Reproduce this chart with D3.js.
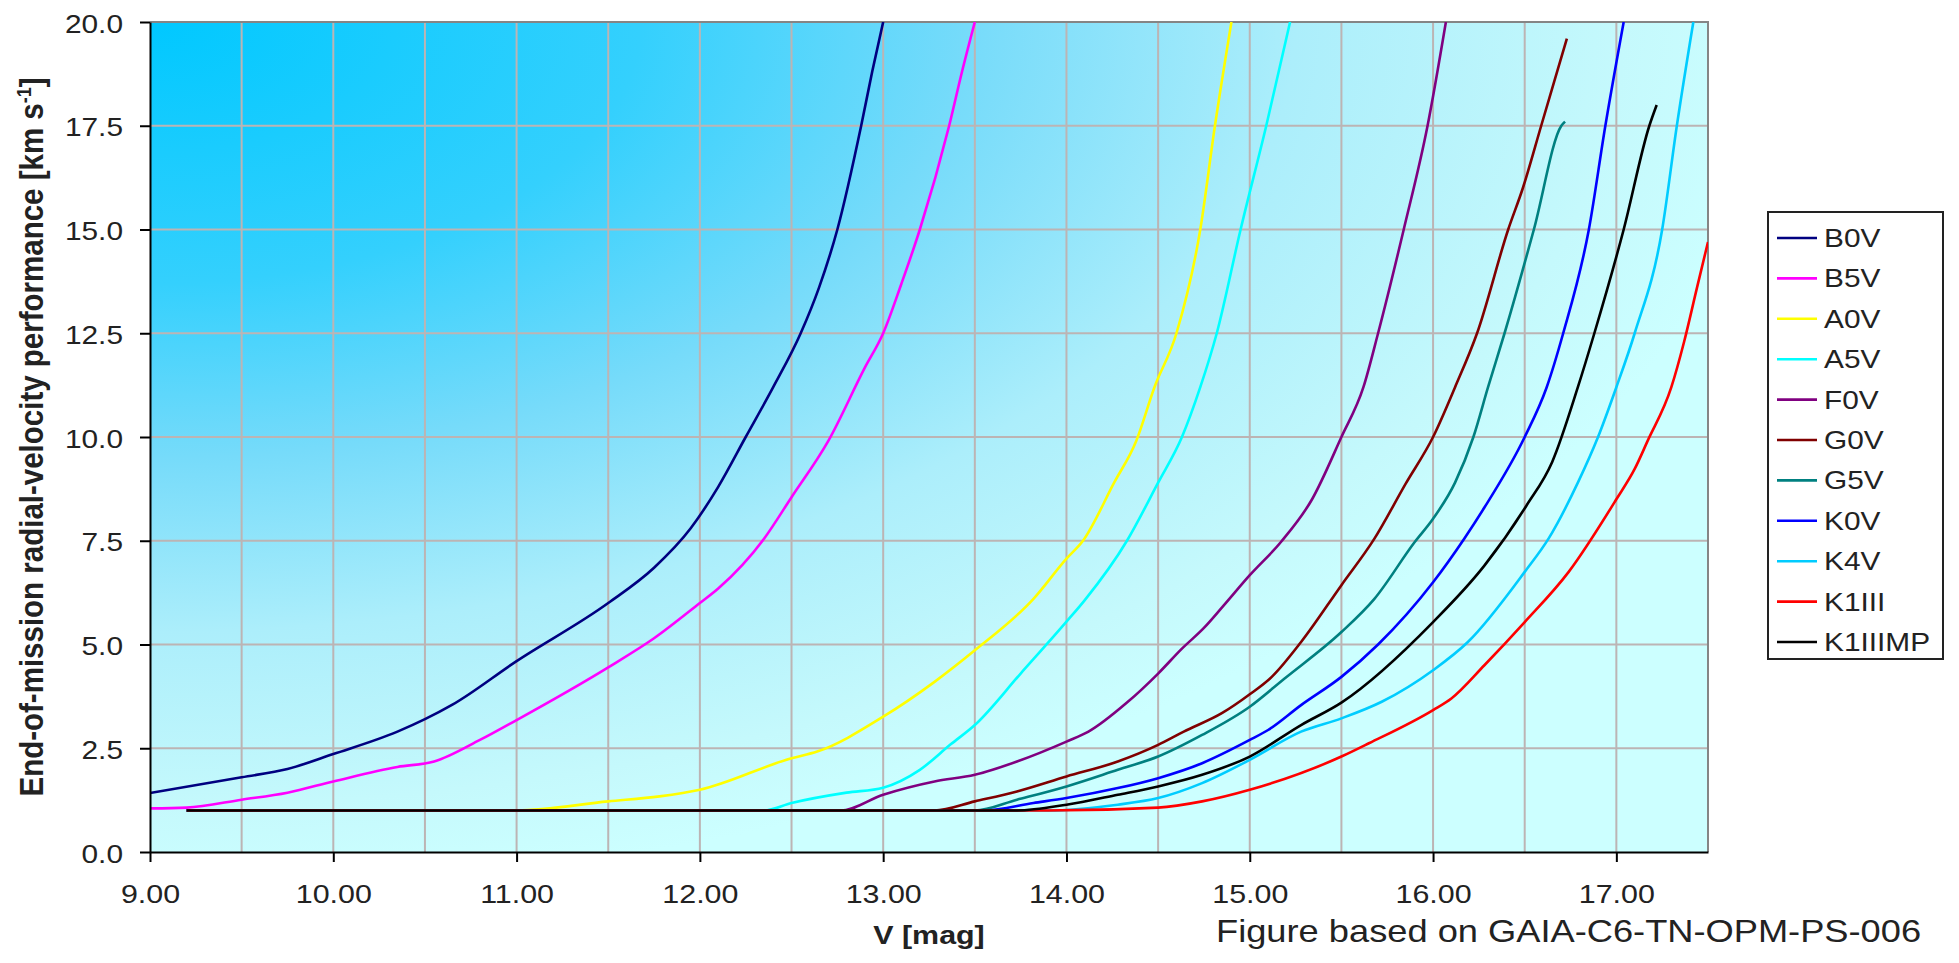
<!DOCTYPE html>
<html>
<head>
<meta charset="utf-8">
<script src="https://cdn.jsdelivr.net/npm/d3@7"></script>
<style>
  body { margin: 0; background: #fff; }
  svg { display: block; font-family: "Liberation Sans", Arial, sans-serif; }
</style>
</head>
<body>
<svg id="chart" width="1959" height="963"></svg>
<script>
// Series: [V magnitude, end-of-mission RV performance km/s]
const B0V = [[9.0,1.42],[9.5,1.8],[9.75,2.0],[10.0,2.36],[10.35,2.9],[10.5,3.2],[10.65,3.55],[11.0,4.6],[11.5,6.0],[11.75,6.85],[11.95,7.8],[12.1,8.8],[12.25,10.0],[12.4,11.2],[12.55,12.5],[12.65,13.6],[12.75,15.0],[12.88,17.5],[12.94,18.8],[13.0,20.0]];
const B5V = [[9.0,1.05],[9.2,1.07],[9.5,1.26],[9.75,1.43],[10.0,1.7],[10.35,2.05],[10.55,2.18],[10.8,2.7],[11.0,3.18],[11.5,4.45],[11.75,5.15],[12.0,6.0],[12.1,6.35],[12.35,7.55],[12.5,8.55],[12.7,9.9],[12.9,11.67],[13.0,12.5],[13.1,13.7],[13.2,15.0],[13.36,17.5],[13.43,18.8],[13.5,20.0]];
const A0V = [[9.2,1.0],[11.0,1.0],[11.5,1.22],[11.78,1.34],[12.0,1.5],[12.5,2.26],[12.64,2.42],[13.0,3.26],[13.28,4.1],[13.5,4.86],[13.82,6.1],[14.0,7.07],[14.09,7.5],[14.26,8.9],[14.38,9.9],[14.48,11.2],[14.6,12.5],[14.73,15.0],[14.81,17.5],[14.9,20.0]];
const A5V = [[9.2,1.0],[12.35,1.0],[12.5,1.18],[12.8,1.43],[13.0,1.55],[13.2,1.98],[13.37,2.6],[13.5,3.06],[13.75,4.3],[14.0,5.55],[14.1,6.07],[14.33,7.5],[14.5,8.9],[14.63,10.0],[14.73,11.2],[14.82,12.5],[14.95,15.0],[15.09,17.5],[15.22,20.0]];
const F0V = [[9.2,1.0],[12.77,1.0],[13.0,1.38],[13.28,1.7],[13.5,1.86],[13.73,2.18],[14.0,2.66],[14.12,2.9],[14.33,3.6],[14.5,4.3],[14.63,4.9],[14.75,5.4],[14.85,5.9],[15.0,6.67],[15.17,7.47],[15.34,8.5],[15.5,10.0],[15.62,11.2],[15.7,12.5],[15.84,15.0],[15.97,17.5],[16.07,20.0]];
const G0V = [[9.2,1.0],[13.28,1.0],[13.5,1.22],[13.73,1.46],[14.0,1.82],[14.28,2.18],[14.5,2.58],[14.64,2.9],[14.85,3.35],[15.0,3.8],[15.12,4.22],[15.28,5.06],[15.5,6.43],[15.68,7.55],[15.85,8.87],[16.0,10.0],[16.12,11.2],[16.24,12.5],[16.41,15.0],[16.49,16.0],[16.59,17.5],[16.73,19.6]];
const G5V = [[9.2,1.0],[13.5,1.0],[13.73,1.26],[14.0,1.58],[14.28,1.98],[14.5,2.3],[14.74,2.82],[15.0,3.5],[15.19,4.18],[15.5,5.3],[15.68,6.1],[15.9,7.47],[16.0,8.03],[16.12,8.9],[16.22,10.0],[16.3,11.2],[16.39,12.5],[16.55,15.0],[16.7,17.5],[16.72,17.6]];
const K0V = [[9.2,1.0],[13.55,1.0],[13.82,1.18],[14.0,1.3],[14.28,1.54],[14.5,1.78],[14.74,2.14],[15.0,2.7],[15.1,2.94],[15.28,3.54],[15.5,4.22],[15.7,5.0],[16.0,6.5],[16.17,7.55],[16.28,8.3],[16.5,10.0],[16.62,11.2],[16.71,12.5],[16.85,15.0],[16.94,17.5],[17.04,20.0]];
const K4V = [[9.2,1.0],[13.9,1.0],[14.28,1.14],[14.5,1.3],[14.74,1.66],[15.0,2.22],[15.28,2.9],[15.5,3.22],[15.72,3.62],[16.0,4.38],[16.19,5.06],[16.5,6.75],[16.63,7.55],[16.79,8.9],[16.9,10.0],[17.0,11.2],[17.1,12.5],[17.25,15.0],[17.33,17.5],[17.42,20.0]];
const K1III = [[9.2,1.0],[13.9,1.0],[14.5,1.07],[14.74,1.22],[15.0,1.5],[15.5,2.3],[15.65,2.62],[16.0,3.42],[16.1,3.7],[16.28,4.5],[16.5,5.54],[16.74,6.75],[17.0,8.5],[17.1,9.23],[17.17,9.9],[17.3,11.2],[17.37,12.3],[17.44,13.6],[17.5,14.7]];
const K1IIIMP = [[9.2,1.0],[13.73,1.0],[14.0,1.14],[14.28,1.38],[14.5,1.58],[14.74,1.86],[15.0,2.3],[15.28,3.06],[15.5,3.6],[16.0,5.54],[16.28,6.9],[16.51,8.35],[16.65,9.4],[16.79,11.2],[16.88,12.5],[17.04,15.0],[17.18,17.5],[17.22,18.0]];

const seriesNames = ["B0V","B5V","A0V","A5V","F0V","G0V","G5V","K0V","K4V","K1III","K1IIIMP"];
const seriesData = [B0V,B5V,A0V,A5V,F0V,G0V,G5V,K0V,K4V,K1III,K1IIIMP];
const seriesColors = ["#000080","#ff00ff","#ffff00","#00ffff","#800080","#800000","#008080","#0000ff","#00ccff","#ff0000","#000000"];

const xTicks = [9,10,11,12,13,14,15,16,17];
const xGrid = [9.5,10,10.5,11,11.5,12,12.5,13,13.5,14,14.5,15,15.5,16,16.5,17];
const yTicks = [0,2.5,5,7.5,10,12.5,15,17.5,20];
const yGrid = [2.5,5,7.5,10,12.5,15,17.5];

const SX = 1.17; // the source figure is stretched horizontally

const svg = d3.select("#chart");
const x = d3.scaleLinear().domain([9, 17.5]).range([150, 1708]);
const y = d3.scaleLinear().domain([0, 20]).range([852, 22]);

const defs = svg.append("defs");
const grad = defs.append("radialGradient")
  .attr("id", "bg")
  .attr("cx", 0).attr("cy", 0).attr("fx", 0).attr("fy", 0).attr("r", 1.05);
[[0,"#00c8ff"],[0.3,"#34d0fd"],[0.5,"#76dbfa"],[0.7,"#aceefb"],[0.9,"#c5f9fc"],[1,"#ccffff"]]
  .forEach(s => grad.append("stop").attr("offset", s[0]).attr("stop-color", s[1]));

defs.append("clipPath").attr("id", "plotclip")
  .append("rect")
  .attr("x", x(9)).attr("y", y(20))
  .attr("width", x(17.5) - x(9)).attr("height", y(0) - y(20));

// plot background
svg.append("rect")
  .attr("x", x(9)).attr("y", y(20))
  .attr("width", x(17.5) - x(9)).attr("height", y(0) - y(20))
  .attr("fill", "url(#bg)");

// grid
svg.append("g").selectAll("line").data(xGrid).join("line")
  .attr("x1", d => x(d)).attr("x2", d => x(d))
  .attr("y1", y(0)).attr("y2", y(20))
  .attr("stroke", "#bcb4b4").attr("stroke-width", 2);
svg.append("g").selectAll("line").data(yGrid).join("line")
  .attr("x1", x(9)).attr("x2", x(17.5))
  .attr("y1", d => y(d)).attr("y2", d => y(d))
  .attr("stroke", "#bcb4b4").attr("stroke-width", 2);

// top and right border
svg.append("path")
  .attr("d", `M${x(9)},${y(20)}H${x(17.5)}V${y(0)}`)
  .attr("fill", "none").attr("stroke", "#858585").attr("stroke-width", 2);

// curves
const line = d3.line()
  .x(d => x(d[0])).y(d => y(d[1]))
  .curve(d3.curveMonotoneX);

svg.append("g").attr("clip-path", "url(#plotclip)")
  .selectAll("path").data(seriesData).join("path")
  .attr("d", line)
  .attr("fill", "none")
  .attr("stroke", (d, i) => seriesColors[i])
  .attr("stroke-width", 2.6)
  .attr("stroke-linejoin", "round");

// axes
const xAxis = svg.append("g")
  .attr("transform", `translate(0,${y(0)})`)
  .call(d3.axisBottom(x).tickValues(xTicks).tickFormat(d3.format(".2f")).tickSize(10).tickSizeOuter(0));
const yAxis = svg.append("g")
  .attr("transform", `translate(${x(9)},0)`)
  .call(d3.axisLeft(y).tickValues(yTicks).tickFormat(d3.format(".1f")).tickSize(10).tickSizeOuter(0));

[xAxis, yAxis].forEach(a => {
  a.select(".domain").attr("stroke", "#000").attr("stroke-width", 2);
  a.selectAll(".tick line").attr("stroke", "#000").attr("stroke-width", 2);
});

xAxis.selectAll(".tick text")
  .attr("x", null).attr("y", null).attr("dy", null)
  .attr("transform", `translate(0,51) scale(${SX},1)`)
  .attr("font-size", 26).attr("fill", "#222")
  .attr("font-family", "Liberation Sans, Arial, sans-serif");

yAxis.selectAll(".tick text")
  .attr("x", null).attr("y", null).attr("dy", null)
  .attr("text-anchor", "end")
  .attr("transform", `translate(-27,10) scale(${SX},1)`)
  .attr("font-size", 25.5).attr("fill", "#222")
  .attr("font-family", "Liberation Sans, Arial, sans-serif");

// axis titles
svg.append("text")
  .attr("transform", `translate(${(x(9) + x(17.5)) / 2},944) scale(${SX},1)`)
  .attr("text-anchor", "middle")
  .attr("font-size", 26).attr("font-weight", "bold").attr("fill", "#222")
  .text("V [mag]");

const yTitle = svg.append("text")
  .attr("transform", `translate(43,${(y(0) + y(20)) / 2}) rotate(-90) scale(1,1.1)`)
  .attr("text-anchor", "middle")
  .attr("font-size", 29.5).attr("font-weight", "bold").attr("fill", "#222");
yTitle.append("tspan").text("End-of-mission radial-velocity performance [km s");
yTitle.append("tspan").attr("font-size", 18).attr("dy", -11).text("-1");
yTitle.append("tspan").attr("dy", 11).text("]");

svg.append("text")
  .attr("transform", `translate(1216,942) scale(${SX},1)`)
  .attr("font-size", 31).attr("fill", "#222")
  .text("Figure based on GAIA-C6-TN-OPM-PS-006");

// legend
const legend = svg.append("g");
legend.append("rect")
  .attr("x", 1768).attr("y", 212).attr("width", 175).attr("height", 447)
  .attr("fill", "#fff").attr("stroke", "#222").attr("stroke-width", 2);

const ly = d3.scalePoint().domain(seriesNames).range([238, 642]);
const items = legend.selectAll("g.item").data(seriesNames).join("g")
  .attr("class", "item")
  .attr("transform", d => `translate(0,${ly(d)})`);
items.append("line")
  .attr("x1", 1777).attr("x2", 1817).attr("y1", 0).attr("y2", 0)
  .attr("stroke", (d, i) => seriesColors[i]).attr("stroke-width", 2.6);
items.append("text")
  .attr("transform", `translate(1824,9) scale(${SX},1)`)
  .attr("font-size", 25.5).attr("fill", "#222")
  .text(d => d);
</script>
</body>
</html>
